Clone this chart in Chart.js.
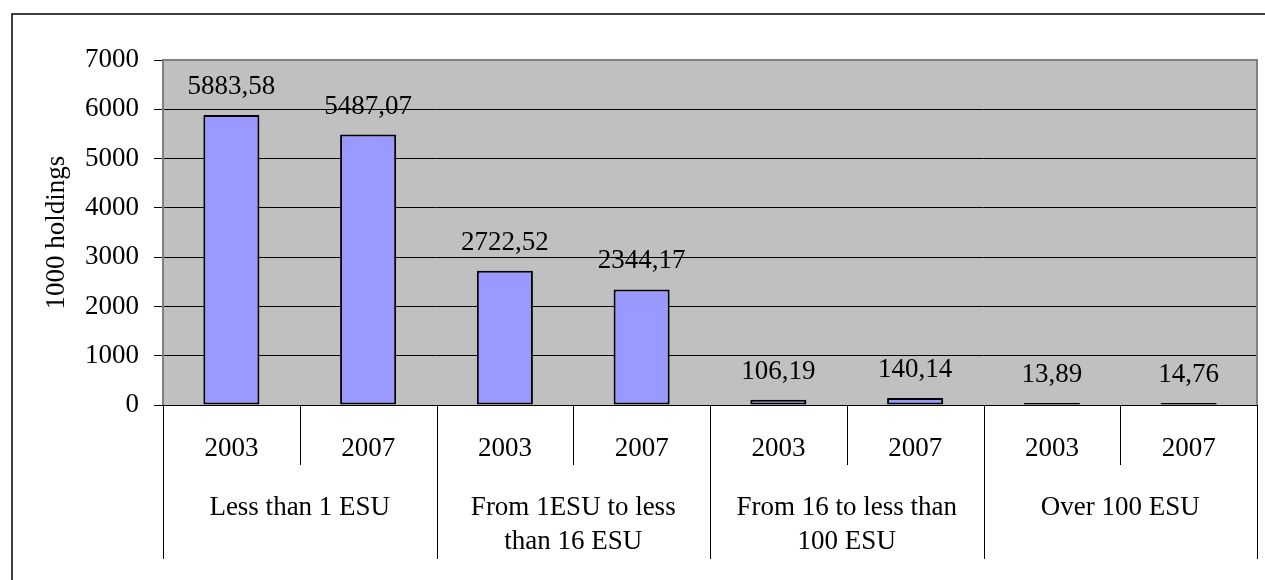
<!DOCTYPE html>
<html>
<head>
<meta charset="utf-8">
<script src="https://cdn.jsdelivr.net/npm/chart.js@4.4.0/dist/chart.umd.min.js"></script>
<style>
    html, body { margin: 0; padding: 0; background: #fff; }
    #wrap { width: 1265px; height: 580px; }
</style>
</head>
<body>
<div id="wrap"><canvas id="chart" width="1265" height="580"></canvas></div>
<script>
const groups = [
    ["Less than 1 ESU"],
    ["From 1ESU to less", "than 16 ESU"],
    ["From 16 to less than", "100 ESU"],
    ["Over 100 ESU"]
];
const years = ["2003", "2007"];
const holdings = [5883.58, 5487.07, 2722.52, 2344.17, 106.19, 140.14, 13.89, 14.76];
const yTicks = [0, 1000, 2000, 3000, 4000, 5000, 6000, 7000];

const FONT = "Liberation Serif, Times New Roman, serif";

// one label per bar, e.g. "Less than 1 ESU|2003"
const labels = [];
groups.forEach(g => years.forEach(y => labels.push(g.join(" ") + "|" + y)));

const fmt = v => v.toFixed(2).replace(".", ",");

const plotBg = {
    id: "plotBg",
    beforeDraw(chart) {
        const { ctx, chartArea: a } = chart;
        ctx.save();
        ctx.fillStyle = "#c0c0c0";
        ctx.fillRect(a.left, a.top, a.right - a.left, a.bottom - a.top);
        ctx.restore();
    }
};

const valueLabels = {
    id: "valueLabels",
    afterDatasetsDraw(chart) {
        const { ctx } = chart;
        const meta = chart.getDatasetMeta(0);
        ctx.save();
        ctx.font = `27px ${FONT}`;
        ctx.fillStyle = "#000";
        ctx.textAlign = "center";
        ctx.textBaseline = "alphabetic";
        meta.data.forEach((bar, i) => {
            ctx.fillText(fmt(holdings[i]), bar.x, bar.y - 21);
        });
        ctx.restore();
    }
};

const frameAndAxis = {
    id: "frameAndAxis",
    afterDraw(chart) {
        const { ctx, chartArea: a } = chart;
        const x = chart.scales.x;
        ctx.save();

        // outer frame (top + left)
        ctx.strokeStyle = "#000";
        ctx.lineWidth = 1.5;
        ctx.beginPath();
        ctx.moveTo(12, 580);
        ctx.lineTo(12, 14);
        ctx.lineTo(1265, 14);
        ctx.stroke();

        // plot border
        ctx.strokeStyle = "#808080";
        ctx.lineWidth = 2;
        ctx.beginPath();
        ctx.moveTo(a.left, a.bottom);
        ctx.lineTo(a.left, a.top);
        ctx.lineTo(a.right, a.top);
        ctx.lineTo(a.right, a.bottom);
        ctx.stroke();

        // category separators
        const n = labels.length;
        const bounds = [a.left];
        for (let i = 0; i < n - 1; i++) {
            bounds.push((x.getPixelForValue(i) + x.getPixelForValue(i + 1)) / 2);
        }
        bounds.push(a.right);
        ctx.strokeStyle = "#000";
        ctx.lineWidth = 1;
        bounds.forEach((bx, i) => {
            const end = i % years.length === 0 ? 559 : 465;
            const px = Math.round(bx) + 0.5;
            ctx.beginPath();
            ctx.moveTo(px, a.bottom);
            ctx.lineTo(px, end);
            ctx.stroke();
        });

        ctx.font = `27px ${FONT}`;
        ctx.fillStyle = "#000";
        ctx.textAlign = "center";
        ctx.textBaseline = "alphabetic";
        for (let i = 0; i < n; i++) {
            ctx.fillText(years[i % years.length], x.getPixelForValue(i), 456);
        }
        groups.forEach((g, gi) => {
            const i0 = gi * years.length;
            const cx = (x.getPixelForValue(i0) + x.getPixelForValue(i0 + years.length - 1)) / 2;
            g.forEach((line, li) => ctx.fillText(line, cx, 515 + li * 34));
        });
        ctx.restore();
    }
};

new Chart(document.getElementById("chart"), {
    type: "bar",
    data: {
        labels,
        datasets: [{
            data: holdings,
            backgroundColor: "#9999ff",
            borderColor: "#000",
            borderWidth: 2,
            borderSkipped: false,
            minBarLength: 2,
            barPercentage: 0.41,
            categoryPercentage: 1
        }]
    },
    options: {
        responsive: false,
        animation: false,
        devicePixelRatio: 1,
        layout: { padding: { top: 60, right: 8, bottom: 0, left: 0 } },
        plugins: { legend: { display: false }, tooltip: { enabled: false } },
        scales: {
            x: {
                ticks: { display: false },
                grid: { display: false },
                border: { display: true, color: "#000", width: 1 },
                afterFit(scale) { scale.height = 175; }
            },
            y: {
                min: 0,
                max: 7000,
                afterBuildTicks(scale) { scale.ticks = yTicks.map(v => ({ value: v })); },
                ticks: {
                    color: "#000",
                    padding: 15,
                    font: { family: FONT, size: 27 },
                    callback: v => String(v)
                },
                grid: { color: "#000", lineWidth: 1, tickLength: 9 },
                border: { display: false },
                title: {
                    display: true,
                    text: "1000 holdings",
                    color: "#000",
                    font: { family: FONT, size: 27 },
                    padding: { top: 41, bottom: 0 }
                },
                afterFit(scale) { scale.width = 163; }
            }
        }
    },
    plugins: [plotBg, valueLabels, frameAndAxis]
});
</script>
</body>
</html>
